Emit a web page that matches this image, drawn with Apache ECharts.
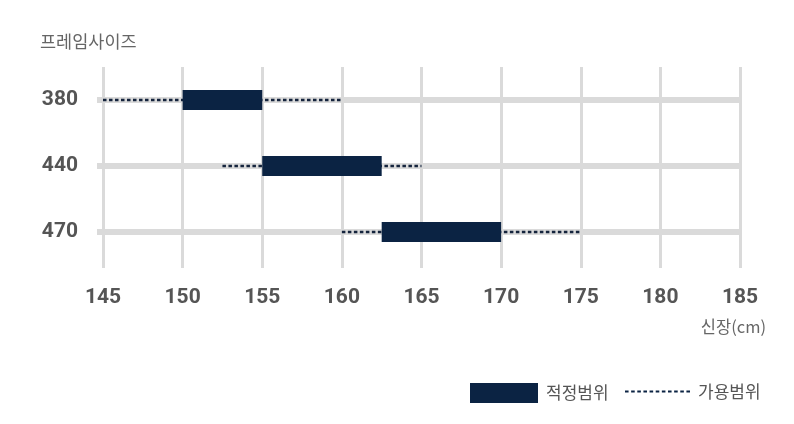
<!DOCTYPE html>
<html>
<head>
<meta charset="utf-8">
<script src="https://cdn.jsdelivr.net/npm/echarts@6/dist/echarts.min.js"></script>
<style>html,body{margin:0;padding:0;background:#fff}#c{width:794px;height:424px}</style>
</head>
<body>
<div id="c"></div>
<script>
const categories = ['380', '440', '470'];
const properStart = [150, 155, 162.5];
const properEnd = [155, 162.5, 170];
const usableStart = [145, 152.5, 160];
const usableEnd = [160, 165, 175];
const xMin = 145, xMax = 185, xStep = 5;

const NAVY = '#0b2343';
const GRAY = '#dadada';
const FONT = '"Noto Sans CJK KR", "Noto Sans", sans-serif';

const usableData = categories.map((c, i) => [i, usableStart[i], usableEnd[i]]);
const properData = categories.map((c, i) => [i, properStart[i], properEnd[i]]);

let dashPath = 'path://';
for (let i = 0; i < 11; i++) dashPath += 'M' + (i * 6) + ',0h3.5v2h-3.5z';

const chart = echarts.init(document.getElementById('c'), null, {renderer: 'canvas'});
chart.setOption({
  animation: false,
  title: [
    {text: '프레임사이즈', left: 40, top: 33, padding: 0, textStyle: {fontFamily: FONT, fontSize: 17.5, fontWeight: 'normal', color: '#666'}},
    {text: '신장(cm)', right: 28, top: 318, padding: 0, textStyle: {fontFamily: FONT, fontSize: 16.5, fontWeight: 'normal', color: '#666'}}
  ],
  legend: [
    {data: [{name: '적정범위', icon: 'rect'}], left: 470, top: 383, padding: 0, itemWidth: 68, itemHeight: 20,
     textStyle: {fontFamily: FONT, fontSize: 17, color: '#555', padding: [0, 0, 0, 3]}},
    {data: [{name: '가용범위', icon: dashPath}], left: 625, top: 383, padding: 0, itemWidth: 65, itemHeight: 20,
     textStyle: {fontFamily: FONT, fontSize: 17, color: '#555', padding: [0, 0, 0, 3]}}
  ],
  grid: {left: 103, right: 54, top: 67, bottom: 159},
  xAxis: {
    type: 'value', min: xMin, max: xMax, interval: xStep,
    axisLine: {show: false},
    axisTick: {show: true, length: 3, lineStyle: {color: GRAY, width: 3}},
    splitLine: {show: true, lineStyle: {color: GRAY, width: 3}},
    axisLabel: {margin: 22, fontFamily: 'Roboto, sans-serif', fontSize: 21, fontWeight: 'bold', color: '#555'}
  },
  yAxis: {
    type: 'category', data: categories, inverse: true,
    axisLine: {show: false}, axisTick: {show: false}, splitLine: {show: false},
    axisLabel: {margin: 25, fontFamily: 'Roboto, sans-serif', fontSize: 21, fontWeight: 'bold', color: '#555'}
  },
  series: [
    {
      name: '가용범위', type: 'custom', itemStyle: {color: NAVY},
      encode: {x: [1, 2], y: 0},
      data: usableData,
      renderItem: function (params, api) {
        const s = api.coord([api.value(1), api.value(0)]);
        const e = api.coord([api.value(2), api.value(0)]);
        const bl = api.coord([xMin, api.value(0)])[0] - 6;
        const br = api.coord([xMax, api.value(0)])[0];
        return {type: 'group', children: [
          {type: 'line', shape: {x1: bl, y1: s[1], x2: br, y2: s[1]}, style: {stroke: GRAY, lineWidth: 6}},
          {type: 'line', shape: {x1: s[0], y1: s[1], x2: e[0], y2: e[1]}, style: {stroke: '#15243d', lineWidth: 2.5, lineDash: [3.5, 2.5]}}
        ]};
      }
    },
    {
      name: '적정범위', type: 'custom', itemStyle: {color: NAVY},
      encode: {x: [1, 2], y: 0},
      data: properData,
      renderItem: function (params, api) {
        const s = api.coord([api.value(1), api.value(0)]);
        const e = api.coord([api.value(2), api.value(0)]);
        const h = api.size([0, 1])[1] * 0.3;
        return {type: 'rect', shape: {x: s[0], y: s[1] - h / 2, width: e[0] - s[0], height: h}, style: {fill: NAVY}};
      }
    }
  ]
});
</script>
</body>
</html>
